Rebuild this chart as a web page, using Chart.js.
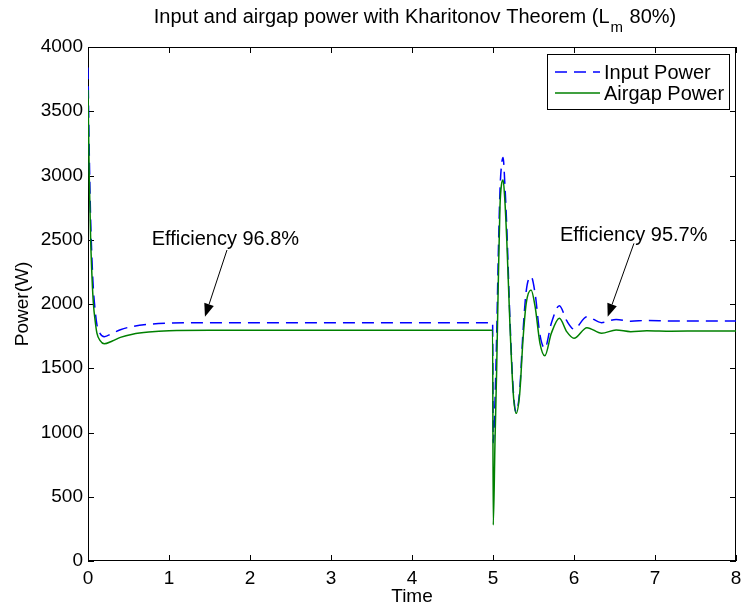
<!DOCTYPE html>
<html>
  <head>
    <title>Input and airgap power with Kharitonov Theorem</title>
    <style>
      body {
        background-color: white;
        margin: 0;
        padding: 0;
      }
    </style>
    <script src="https://cdn.jsdelivr.net/npm/chart.js"></script>
  </head>
  <body>
    <canvas id="powerChart" width="744" height="611"></canvas>
    <script>
      // values (time in s, power in W)
      const time = [0, 0.015, 0.033, 0.05, 0.066, 0.09, 0.11, 0.15, 0.2, 0.3, 0.4, 0.55, 0.75, 1.0, 1.5, 2.5, 3.5, 4.5, 4.995,
        5.003, 5.025, 5.045, 5.066, 5.086, 5.105, 5.125, 5.145, 5.17, 5.21, 5.25, 5.285, 5.33, 5.37, 5.41, 5.47, 5.52, 5.58,
        5.64, 5.72, 5.82, 5.91, 6.0, 6.16, 6.34, 6.52, 6.7, 6.9, 7.2, 7.6, 8.0];
      const inputPower = [3840, 3200, 2650, 2330, 2120, 1940, 1840, 1770, 1746, 1772, 1800, 1825, 1842, 1851, 1855, 1855, 1855, 1855, 1855,
        920, 1250, 1750, 2400, 2880, 3080, 3140, 2950, 2600, 1870, 1330, 1160, 1330, 1780, 2100, 2213, 2080, 1760,
        1655, 1850, 1987, 1870, 1805, 1901, 1855, 1880, 1866, 1872, 1868, 1868, 1868];
      const airgapPower = [3665, 3000, 2498, 2200, 2008, 1860, 1774, 1715, 1690, 1712, 1740, 1765, 1782, 1792, 1795, 1795, 1795, 1795, 1795,
        280, 941, 1486, 2187, 2757, 2930, 2965, 2820, 2498, 1823, 1305, 1149, 1305, 1720, 2005, 2109, 1979, 1694,
        1597, 1772, 1889, 1785, 1733, 1816, 1772, 1798, 1785, 1792, 1788, 1790, 1790];
      const xTickValues = [0, 1, 2, 3, 4, 5, 6, 7, 8];
      const yTickValues = [0, 500, 1000, 1500, 2000, 2500, 3000, 3500, 4000];
      const seriesNames = ["Input Power", "Airgap Power"];
      const noteLabels = ["Efficiency 96.8%", "Efficiency 95.7%"];

      const FONT = "'Liberation Sans', Arial, Helvetica, sans-serif";

      // arrow / text anchors in data units
      const noteAnchors = [
        { text: [0.786, 2459], from: [1.716, 2420], to: [1.444, 1901] },
        { text: [5.827, 2490], from: [6.74, 2472], to: [6.416, 1901] }
      ];

      function toPoints(values) {
        return values.map((v, i) => ({ x: time[i], y: v }));
      }

      const matlabFrame = {
        id: "matlabFrame",
        // box + inward ticks go under the lines, like in the original figure
        beforeDatasetsDraw(chart) {
          const ctx = chart.ctx;
          const area = chart.chartArea;
          const xs = chart.scales.x;
          const ys = chart.scales.y;
          ctx.save();
          ctx.strokeStyle = "#000";
          ctx.lineWidth = 1;
          ctx.strokeRect(area.left + 0.5, area.top + 0.5, area.right - area.left - 1, area.bottom - area.top - 1);
          ctx.beginPath();
          xTickValues.forEach(v => {
            const px = Math.round(xs.getPixelForValue(v)) + 0.5;
            ctx.moveTo(px, area.bottom); ctx.lineTo(px, area.bottom - 6);
            ctx.moveTo(px, area.top); ctx.lineTo(px, area.top + 6);
          });
          yTickValues.forEach(v => {
            const py = Math.round(ys.getPixelForValue(v)) + 0.5;
            ctx.moveTo(area.left, py); ctx.lineTo(area.left + 6, py);
            ctx.moveTo(area.right, py); ctx.lineTo(area.right - 6, py);
          });
          ctx.stroke();
          ctx.restore();
        },
        afterDatasetsDraw(chart) {
          const ctx = chart.ctx;
          const area = chart.chartArea;
          const xs = chart.scales.x;
          const ys = chart.scales.y;
          ctx.save();
          ctx.strokeStyle = "#000";
          ctx.lineWidth = 1;

          // annotations
          ctx.fillStyle = "#000";
          ctx.font = "20px " + FONT;
          ctx.textBaseline = "alphabetic";
          ctx.textAlign = "left";
          noteAnchors.forEach((n, i) => {
            ctx.fillText(noteLabels[i], xs.getPixelForValue(n.text[0]), ys.getPixelForValue(n.text[1]));
            const x1 = xs.getPixelForValue(n.from[0]), y1 = ys.getPixelForValue(n.from[1]);
            const x2 = xs.getPixelForValue(n.to[0]), y2 = ys.getPixelForValue(n.to[1]);
            const ang = Math.atan2(y2 - y1, x2 - x1);
            const headLen = 13, headW = 5;
            const bx = x2 - headLen * Math.cos(ang), by = y2 - headLen * Math.sin(ang);
            ctx.beginPath();
            ctx.moveTo(x1, y1); ctx.lineTo(bx, by);
            ctx.stroke();
            ctx.beginPath();
            ctx.moveTo(x2, y2);
            ctx.lineTo(bx + headW * Math.sin(ang), by - headW * Math.cos(ang));
            ctx.lineTo(bx - headW * Math.sin(ang), by + headW * Math.cos(ang));
            ctx.closePath();
            ctx.fill();
          });

          // legend box in the upper right
          const w = 182, h = 55;
          const bl = area.right - 7 - w, bt = area.top + 7;
          ctx.fillStyle = "#fff";
          ctx.fillRect(bl, bt, w, h);
          ctx.strokeRect(bl + 0.5, bt + 0.5, w, h);
          ctx.textBaseline = "middle";
          chart.data.datasets.forEach((ds, i) => {
            const ry = bt + 18 + i * 21;
            ctx.strokeStyle = ds.borderColor;
            ctx.lineWidth = 1.5;
            ctx.setLineDash(ds.borderDash || []);
            ctx.beginPath();
            ctx.moveTo(bl + 8, ry); ctx.lineTo(bl + 53, ry);
            ctx.stroke();
            ctx.setLineDash([]);
            ctx.fillStyle = "#000";
            ctx.fillText(ds.label, bl + 57, ry + 1);
          });

          // title with subscript
          const main1 = "Input and airgap power with Kharitonov Theorem (L";
          const sub = "m";
          const main2 = " 80%)";
          ctx.font = "20px " + FONT;
          const w1 = ctx.measureText(main1).width;
          const w3 = ctx.measureText(main2).width;
          ctx.font = "15px " + FONT;
          const w2 = ctx.measureText(sub).width + 2;
          const total = w1 + w2 + w3;
          let tx = (area.left + area.right) / 2 + 3 - total / 2;
          ctx.textBaseline = "alphabetic";
          ctx.fillStyle = "#000";
          ctx.font = "20px " + FONT;
          ctx.fillText(main1, tx, 23);
          ctx.font = "15px " + FONT;
          ctx.fillText(sub, tx + w1 + 1, 32);
          ctx.font = "20px " + FONT;
          ctx.fillText(main2, tx + w1 + w2, 23);
          ctx.restore();
        }
      };

      new Chart(document.getElementById("powerChart"), {
        type: "line",
        data: {
          datasets: [
            {
              label: seriesNames[0],
              data: toPoints(inputPower),
              borderColor: "#0000ff",
              borderWidth: 1.5,
              borderDash: [12, 7],
              pointRadius: 0,
              cubicInterpolationMode: "monotone",
              order: 1
            },
            {
              label: seriesNames[1],
              data: toPoints(airgapPower),
              borderColor: "#008000",
              borderWidth: 1.5,
              pointRadius: 0,
              cubicInterpolationMode: "monotone",
              order: 0
            }
          ]
        },
        options: {
          responsive: false,
          animation: false,
          devicePixelRatio: 1,
          layout: { padding: { top: 47, right: 8, bottom: 0, left: 0 } },
          plugins: {
            legend: { display: false },
            tooltip: { enabled: false }
          },
          scales: {
            x: {
              type: "linear",
              min: 0,
              max: 8,
              afterBuildTicks: s => { s.ticks = xTickValues.map(v => ({ value: v })); },
              afterFit: s => { s.height = 50; s.paddingLeft = 0; s.paddingRight = 0; },
              grid: { display: false, drawTicks: false },
              border: { display: false },
              ticks: { color: "#000", font: { family: FONT, size: 19 }, padding: 6, maxRotation: 0, autoSkip: false, callback: v => String(v) },
              title: { display: true, text: "Time", color: "#000", font: { family: FONT, size: 19, lineHeight: 1.2 }, padding: { top: 0, bottom: 3 } }
            },
            y: {
              min: 0,
              max: 4000,
              afterBuildTicks: s => { s.ticks = yTickValues.map(v => ({ value: v })); },
              afterFit: s => { s.width = 88; s.paddingTop = 0; s.paddingBottom = 0; },
              grid: { display: false, drawTicks: false },
              border: { display: false },
              ticks: { color: "#000", font: { family: FONT, size: 19 }, padding: 5, autoSkip: false, callback: v => String(v) },
              title: { display: true, text: "Power(W)", color: "#000", font: { family: FONT, size: 19, lineHeight: 1.2 }, padding: { top: 11, bottom: 0 } }
            }
          }
        },
        plugins: [matlabFrame]
      });
    </script>
  </body>
</html>
